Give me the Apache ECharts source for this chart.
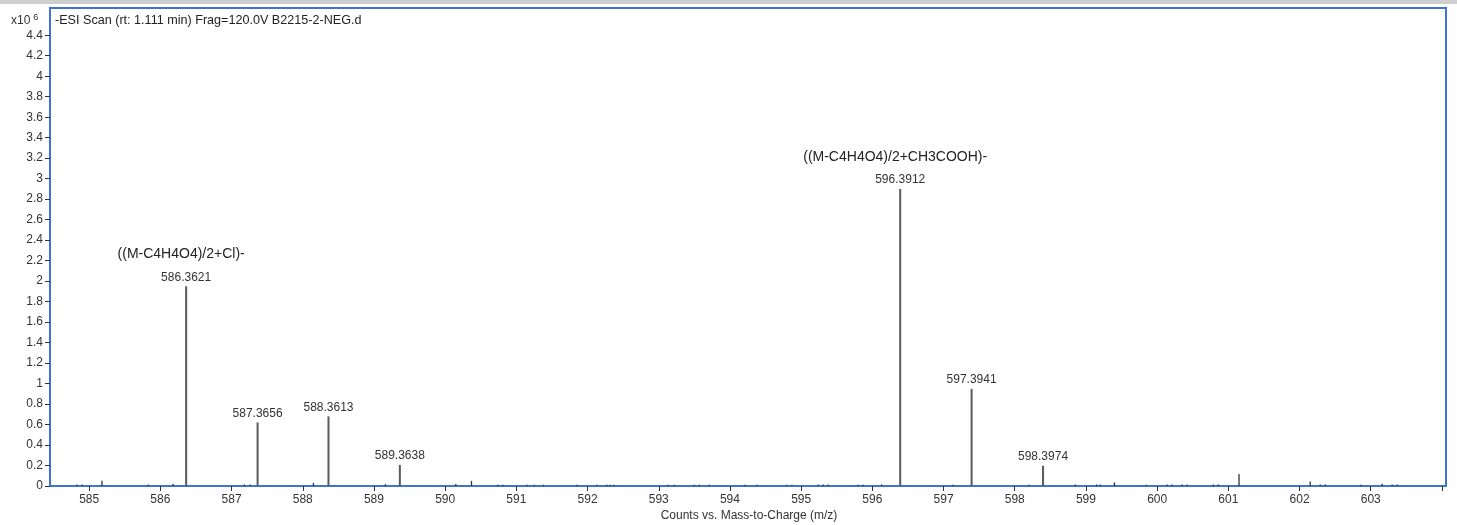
<!DOCTYPE html>
<html>
<head>
<meta charset="utf-8">
<title>ESI Scan</title>
<script src="https://cdn.jsdelivr.net/npm/echarts@6/dist/echarts.min.js"></script>
<style>
  html, body { margin: 0; padding: 0; background: #ffffff; }
  #chart { width: 1457px; height: 525px; }
</style>
</head>
<body>
<div id="chart"></div>
<script>
// ---- data (m/z, intensity in units of 10^6 counts) ----
const labeledMz = [586.3621, 587.3656, 588.3613, 589.3638, 596.3912, 597.3941, 598.3974];
const labeledIntensity = [1.95, 0.62, 0.68, 0.205, 2.90, 0.948, 0.198];
const annotations = ['((M-C4H4O4)/2+Cl)-', '', '', '', '((M-C4H4O4)/2+CH3COOH)-', '', ''];

const minorMz = [584.83, 584.90, 585.18, 585.83, 586.18, 587.18, 587.26, 588.15, 589.16, 590.15,
  590.37, 590.74, 590.81, 591.15, 591.25, 591.38, 591.85, 592.13, 592.27, 592.32, 592.37,
  593.13, 593.22, 593.50, 593.57, 593.71, 594.21, 594.38, 594.80, 594.87, 595.24, 595.31,
  595.38, 595.80, 595.87, 596.13, 597.13, 598.20, 598.85, 599.15, 599.20, 599.40, 599.85,
  600.14, 600.21, 600.35, 600.42, 600.79, 600.86, 601.15, 602.15, 602.29, 602.36, 602.86,
  603.16, 603.30, 603.37];
const minorIntensity = [0.015, 0.015, 0.052, 0.015, 0.02, 0.015, 0.015, 0.03, 0.018, 0.02,
  0.05, 0.012, 0.012, 0.012, 0.012, 0.012, 0.012, 0.012, 0.012, 0.012, 0.012,
  0.012, 0.012, 0.012, 0.012, 0.012, 0.012, 0.012, 0.012, 0.012, 0.015, 0.015,
  0.015, 0.012, 0.012, 0.015, 0.012, 0.012, 0.015, 0.015, 0.015, 0.035, 0.012,
  0.015, 0.015, 0.015, 0.015, 0.015, 0.015, 0.117, 0.045, 0.015, 0.015, 0.012,
  0.022, 0.015, 0.015];

const xTicks = [585, 586, 587, 588, 589, 590, 591, 592, 593, 594, 595, 596, 597, 598, 599, 600, 601, 602, 603, 604];
const xLabels = [585, 586, 587, 588, 589, 590, 591, 592, 593, 594, 595, 596, 597, 598, 599, 600, 601, 602, 603];
const yTicks = [0, 0.2, 0.4, 0.6, 0.8, 1, 1.2, 1.4, 1.6, 1.8, 2, 2.2, 2.4, 2.6, 2.8, 3, 3.2, 3.4, 3.6, 3.8, 4, 4.2, 4.4];

const titleText = '-ESI Scan (rt: 1.111 min) Frag=120.0V B2215-2-NEG.d';
const xAxisName = 'Counts vs. Mass-to-Charge (m/z)';

// ---- chart ----
const FONT = '"Liberation Sans", Arial, sans-serif';
const BLUE = '#3f74d4';
const chart = echarts.init(document.getElementById('chart'), null, { renderer: 'canvas' });

const labeledData = labeledMz.map((m, i) => [m, labeledIntensity[i], i]);
const minorData = minorMz.map((m, i) => [m, minorIntensity[i]]);

const option = {
  animation: false,
  backgroundColor: '#ffffff',
  grid: {
    left: 50, right: 11, top: 8, bottom: 39,
    show: true, borderColor: BLUE, borderWidth: 2, backgroundColor: '#ffffff'
  },
  graphic: [
    { type: 'rect', left: 0, top: 0, shape: { width: 1457, height: 4 }, style: { fill: '#cfcfcf' }, silent: true },
    { type: 'text', left: 55, top: 14, style: { text: titleText, font: '12.6px ' + FONT, fill: '#222' } },
    { type: 'text', left: 11, top: 13, style: {
        text: '{a|x10}{b|6}', rich: {
          a: { font: '12px ' + FONT, fill: '#333', verticalAlign: 'bottom' },
          b: { font: '9px ' + FONT, fill: '#333', padding: [0, 0, 5, 3], verticalAlign: 'bottom' }
        } } },
    { type: 'text', x: 749, y: 516, style: { text: xAxisName, font: '12px ' + FONT, fill: '#333', align: 'center', verticalAlign: 'middle' } }
  ],
  xAxis: {
    type: 'value',
    min: 584.45,
    max: 604.057,
    axisLine: { show: true, lineStyle: { color: BLUE, width: 2 } },
    axisTick: { show: true, length: 5, lineStyle: { color: '#333', width: 1 }, customValues: xTicks },
    axisLabel: { show: true, customValues: xLabels, margin: 8, fontSize: 12, fontFamily: FONT, color: '#333' },
    splitLine: { show: false }
  },
  yAxis: {
    type: 'value',
    min: 0,
    max: 4.666,
    axisLine: { show: true, lineStyle: { color: BLUE, width: 2 } },
    axisTick: { show: true, length: 5, lineStyle: { color: '#333', width: 1 }, customValues: yTicks },
    axisLabel: {
      show: true, customValues: yTicks, margin: 7, fontSize: 12, fontFamily: FONT, color: '#333',
      formatter: v => String(parseFloat(Number(v).toFixed(1)))
    },
    splitLine: { show: false }
  },
  series: [
    {
      type: 'custom',
      name: 'minor',
      data: minorData,
      clip: true,
      silent: true,
      renderItem: (params, api) => {
        const mz = api.value(0), inten = api.value(1);
        const p0 = api.coord([mz, 0]), p1 = api.coord([mz, inten]);
        return {
          type: 'line',
          shape: { x1: p0[0], y1: p0[1], x2: p1[0], y2: p1[1] },
          style: { stroke: '#333', lineWidth: 1.3 }
        };
      }
    },
    {
      type: 'custom',
      name: 'labeled',
      data: labeledData,
      clip: false,
      silent: true,
      renderItem: (params, api) => {
        const mz = api.value(0), inten = api.value(1), idx = api.value(2);
        const p0 = api.coord([mz, 0]), p1 = api.coord([mz, inten]);
        const children = [
          { type: 'line', shape: { x1: p0[0], y1: p0[1], x2: p1[0], y2: p1[1] },
            style: { stroke: '#5a5a5a', lineWidth: 2 } },
          { type: 'text', style: { text: labeledMz[idx].toFixed(4), x: p1[0], y: p1[1] - 3,
            align: 'center', verticalAlign: 'bottom', font: '12px ' + FONT, fill: '#333' } }
        ];
        if (annotations[idx]) {
          children.push({ type: 'text', style: { text: annotations[idx], x: p1[0] - 5, y: p1[1] - 32,
            align: 'center', verticalAlign: 'middle', font: '14px ' + FONT, fill: '#222' } });
        }
        return { type: 'group', children };
      }
    }
  ]
};
chart.setOption(option);
</script>
</body>
</html>
